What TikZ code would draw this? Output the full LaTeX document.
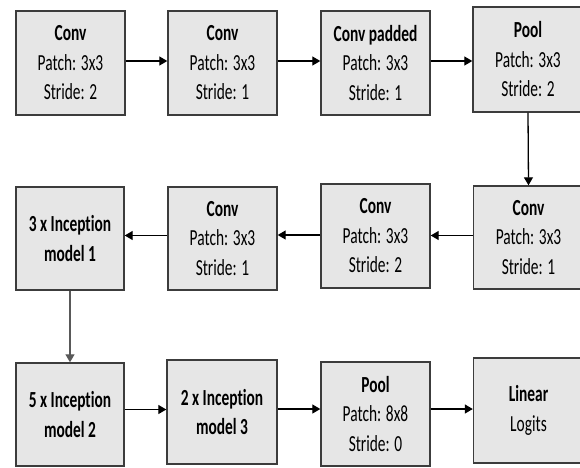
\documentclass[tikz,border=0pt]{standalone}
\usepackage{fontspec}
\setmainfont{Carlito}[FakeStretch=0.67, Ligatures=NoCommon]
\usetikzlibrary{arrows.meta,calc}
\definecolor{boxfill}{HTML}{E6E6E6}
\definecolor{boxline}{HTML}{3C3C3C}
\tikzset{
  layer/.style={draw=boxline, line width=1.4pt, fill=boxfill, rectangle,
    inner sep=0pt, align=center, font=\fontsize{23}{29.5}\selectfont},
  flow/.style={line width=1.3pt, black, -{Triangle[length=8pt,width=9pt]}},
  flowgray/.style={line width=1.3pt, black!65, -{Triangle[length=8pt,width=9pt]}}
}
\begin{document}
\begin{tikzpicture}[x=1pt,y=-1pt]
\useasboundingbox (0,0) rectangle (580,467);
\clip (0,0) rectangle (580,467);
% row 1
\node[layer, minimum width=109pt, minimum height=104pt] (b1) at (70.5,63) {\textbf{Conv}\\Patch: 3x3\\Stride: 2};
\node[layer, minimum width=109pt, minimum height=104pt] (b2) at (222.5,63) {\textbf{Conv}\\Patch: 3x3\\Stride: 1};
\node[layer, minimum width=109pt, minimum height=104pt] (b3) at (375.5,63) {\textbf{Conv padded}\\Patch: 3x3\\Stride: 1};
\node[layer, minimum width=110pt, minimum height=105pt] (b4) at (528,59.5) {\textbf{Pool}\\Patch: 3x3\\Stride: 2};
% row 2
\node[layer, minimum width=108pt, minimum height=103pt] (c1) at (70,238.5) {\textbf{3 x Inception}\\\textbf{model 1}};
\node[layer, minimum width=109pt, minimum height=103pt] (c2) at (222.5,238.5) {\textbf{Conv}\\Patch: 3x3\\Stride: 1};
\node[layer, minimum width=109pt, minimum height=104pt] (c3) at (375.5,236) {\textbf{Conv}\\Patch: 3x3\\Stride: 2};
\node[layer, minimum width=110pt, minimum height=103pt] (c4) at (528.5,237.5) {\textbf{Conv}\\Patch: 3x3\\Stride: 1};
% row 3
\node[layer, minimum width=108pt, minimum height=103pt] (d1) at (70,414.5) {\textbf{5 x Inception}\\\textbf{model 2}};
\node[layer, minimum width=110pt, minimum height=104pt] (d2) at (222,412) {\textbf{2 x Inception}\\\textbf{model 3}};
\node[layer, minimum width=109pt, minimum height=104pt] (d3) at (375.5,414) {\textbf{Pool}\\Patch: 8x8\\Stride: 0};
\node[layer, minimum width=110pt, minimum height=105pt] (d4) at (528.5,410.5) {\textbf{Linear}\\Logits};
% connector anchor points
\coordinate (s1) at ($(b1.east)+(0,-2)$);
\coordinate (s2) at ($(b2.east)+(0,-2)$);
\coordinate (s3) at ($(b3.east)+(0,-2)$);
\coordinate (s4) at ($(c4.west)+(0,-2)$);
\coordinate (s5) at ($(c3.west)+(0,-1)$);
\coordinate (s6) at ($(c2.west)+(0,-3)$);
\coordinate (s7) at ($(d1.east)+(0,-5)$);
\coordinate (s8) at ($(d2.east)+(0,-3)$);
\coordinate (s9) at ($(d3.east)+(0,-5)$);
% connectors
\draw[flow] (s1) -- (s1 -| b2.west);
\draw[flow] (s2) -- (s2 -| b3.west);
\draw[flow] (s3) -- (s3 -| b4.west);
\draw[flow] (b4.south) -- (c4.north);
\draw[flow] (s4) -- (s4 -| c3.east);
\draw[flow] (s5) -- (s5 -| c2.east);
\draw[flow] (s6) -- (s6 -| c1.east);
\draw[flowgray] (c1.south) -- (d1.north);
\draw[flow] (s7) -- (s7 -| d2.west);
\draw[flow] (s8) -- (s8 -| d3.west);
\draw[flow] (s9) -- (s9 -| d4.west);
\end{tikzpicture}
\end{document}
